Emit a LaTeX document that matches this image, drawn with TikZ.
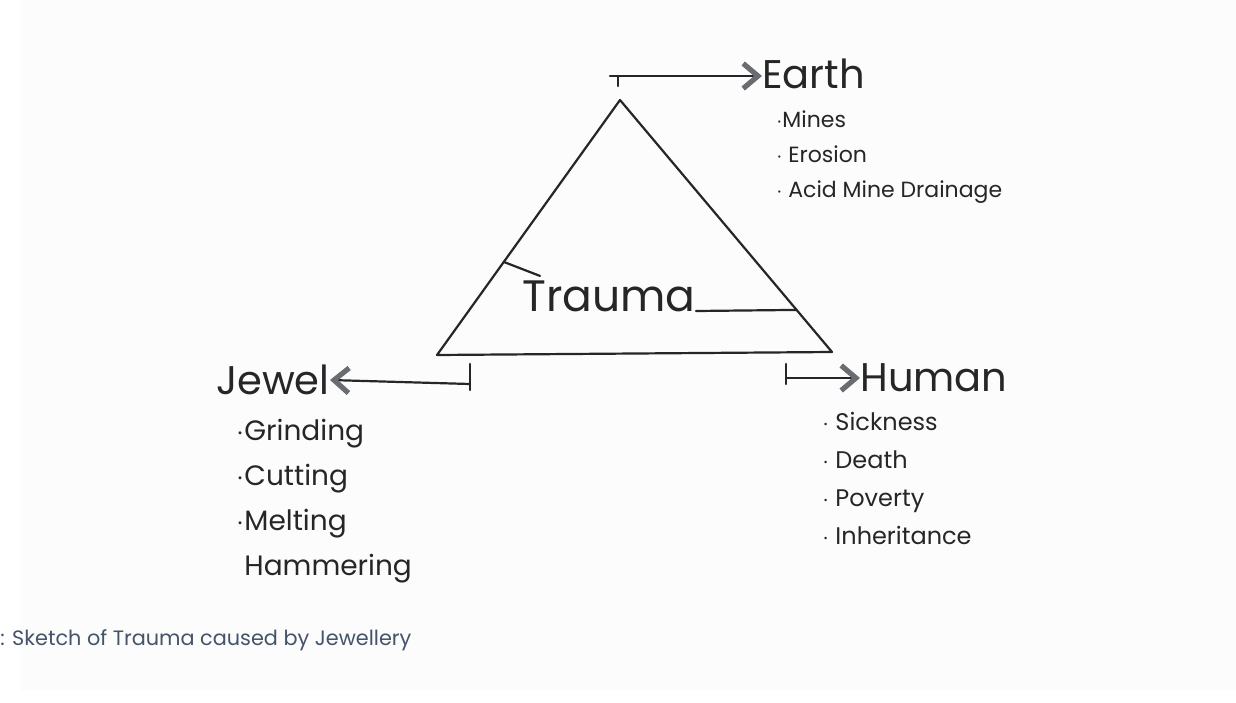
\documentclass[tikz,border=0pt]{standalone}
\usepackage{fontspec}
\setmainfont{Poppins}
\usepackage{tikz}
\usetikzlibrary{arrows.meta,calc,positioning}
\definecolor{skInk}{RGB}{38,38,40}
\definecolor{skGray}{RGB}{105,108,112}
\definecolor{skPaper}{RGB}{252,252,252}
\definecolor{skCaption}{RGB}{68,84,106}
\tikzset{
  skline/.style={draw=skInk,line width=1.1pt,line cap=round,line join=round},
  skarrow/.style={skline,-{Straight Barb[length=2.6mm,width=4.4mm,line width=2.6pt,color=skGray]}},
  skhead/.style={font=\fontsize{20}{22}\selectfont,text=skInk,inner sep=0pt},
  sklist/.style={font=\fontsize{11}{17.5}\selectfont,text=skInk,align=left,inner sep=0pt},
  skcaption/.style={font=\fontsize{10.4}{12}\selectfont,text=skCaption,inner sep=0pt},
}
\begin{document}
\begin{tikzpicture}[x=0.5pt,y=-0.5pt]
  \useasboundingbox (0,0) rectangle (1236,702);
  \fill[skPaper] (20,0) rectangle (1236,690);

  \coordinate (apex) at (620,100);
  \coordinate (bl) at (437,355);
  \coordinate (br) at (832,352);

  % The trauma triangle.
  \draw[skline] (apex) -- (br) -- (bl) -- cycle;
  \path (apex) -- (br) coordinate[pos=0.833] (rightMark);
  \path (apex) -- (bl) coordinate[pos=0.635] (leftMark);

  % Label inside, tied to both sides.
  \node[font=\fontsize{22}{24}\selectfont,text=skInk,inner sep=0pt,anchor=base west]
    (trauma) at (522,311) {Trauma};
  \draw[skline] (trauma.base east) -- (rightMark);
  \draw[skline] (leftMark) -- ($(trauma.north west)+(18,-4)$);

  % Three branches.
  \node[skhead,anchor=west] (earth) at (762,74) {Earth};
  \node[skhead,anchor=east] (jewel) at (330,380) {Jewel};
  \node[skhead,anchor=west] (human) at (860,378) {Human};

  \coordinate (earthTick) at (618,76);
  \coordinate (jewelTick) at (470,384);
  \coordinate (humanTick) at (786,378);

  \draw[skline] (earthTick) -- ++(0,10);
  \draw[skarrow] ($(earthTick)+(-8,0)$) -- (earth.west |- earthTick);
  \draw[skline] ($(jewelTick)+(0,-20)$) -- ++(0,26);
  \draw[skarrow] (jewelTick) -- (jewel.east);
  \draw[skline] ($(humanTick)+(0,-14)$) -- ++(0,20);
  \draw[skarrow] (humanTick) -- (human.west);

  % Bulleted lists under each branch.
  \node[sklist,anchor=north west] (earthList) at (776,110)
    {$\cdot$Mines\\$\cdot$ Erosion\\$\cdot$ Acid Mine Drainage};
  \node[sklist,anchor=north west,font=\fontsize{14}{22.5}\selectfont] (jewelList) at (236,419)
    {$\cdot$Grinding\\$\cdot$Cutting\\$\cdot$Melting\\\phantom{$\cdot$}Hammering};
  \node[sklist,anchor=north west,font=\fontsize{12}{19}\selectfont] (humanList) at (822,412)
    {$\cdot$ Sickness\\$\cdot$ Death\\$\cdot$ Poverty\\$\cdot$ Inheritance};

  % Caption.
  \node[skcaption,anchor=base west] (caption) at (0,645)
    {: Sketch of Trauma caused by Jewellery};
\end{tikzpicture}
\end{document}
